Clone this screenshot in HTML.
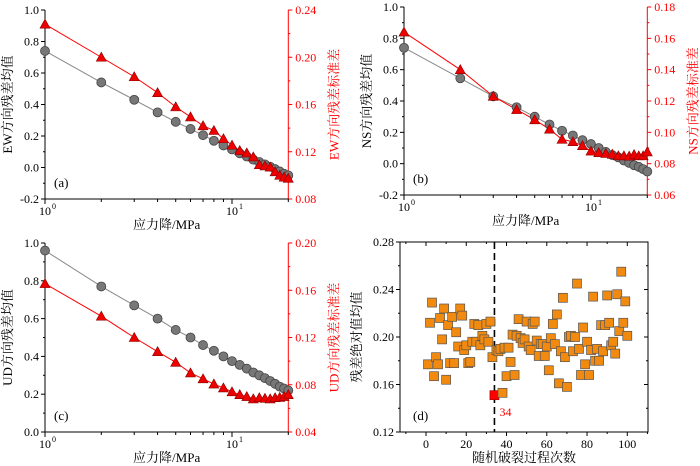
<!DOCTYPE html>
<html><head><meta charset="utf-8">
<style>
html,body{margin:0;padding:0;background:#fff;}
svg{display:block;font-family:"Liberation Serif","Noto Serif CJK SC",serif;}
</style></head>
<body>
<svg id="fig" width="700" height="466" viewBox="0 0 700 466"></svg>
<script>
const xStress = [1,2,3,4,5,6,7,8,9,10,11,12,13,14,15,16,17,18,19,20];
const ewMean = [0.74,0.54,0.43,0.35,0.29,0.245,0.205,0.17,0.14,0.115,0.09,0.07,0.05,0.035,0.02,0.005,-0.01,-0.025,-0.04,-0.05];
const ewStd = [0.228,0.2,0.1835,0.17,0.158,0.1495,0.142,0.138,0.131,0.1255,0.121,0.119,0.1156,0.109,0.108,0.107,0.103,0.1,0.0985,0.0975];
const nsMean = [0.74,0.545,0.43,0.36,0.30,0.25,0.21,0.18,0.15,0.125,0.1,0.075,0.055,0.04,0.02,0.005,-0.01,-0.02,-0.035,-0.05];
const nsStd = [0.164,0.14,0.123,0.1145,0.108,0.102,0.0955,0.094,0.0915,0.088,0.087,0.0865,0.086,0.085,0.085,0.0848,0.0858,0.085,0.085,0.0875];
const udMean = [0.96,0.77,0.67,0.60,0.54,0.50,0.46,0.43,0.40,0.375,0.355,0.335,0.315,0.30,0.285,0.27,0.255,0.24,0.23,0.22];
const udStd = [0.1656,0.138,0.12,0.108,0.099,0.09,0.085,0.0806,0.0773,0.074,0.0716,0.07,0.068,0.069,0.0685,0.068,0.069,0.0693,0.07,0.0716];
const leftTicks = [-0.2,0,0.2,0.4,0.6,0.8,1.0];
const leftTicksC = [0,0.2,0.4,0.6,0.8,1.0];
const ewRightTicks = [0.08,0.12,0.16,0.20,0.24];
const nsRightTicks = [0.06,0.08,0.10,0.12,0.14,0.16,0.18];
const udRightTicks = [0.04,0.08,0.12,0.16,0.20];
const runIdx = Array.from({length:100},(_,i)=>i+1);
const runVals = [0.177,0.212,0.229,0.167,0.183,0.177,0.216,0.198,0.224,0.164,0.210,0.178,0.217,0.178,0.204,0.192,0.224,0.218,0.189,0.193,
0.178,0.179,0.196,0.211,0.196,0.210,0.193,0.201,0.198,0.211,0.196,0.213,0.183,0.151,0.189,0.188,0.190,0.153,0.191,0.167,
0.191,0.179,0.202,0.168,0.201,0.215,0.199,0.195,0.198,0.213,0.192,0.189,0.211,0.213,0.197,0.184,0.194,0.194,0.184,0.192,
0.172,0.199,0.211,0.194,0.219,0.161,0.188,0.233,0.183,0.158,0.200,0.201,0.188,0.200,0.245,0.190,0.168,0.208,0.177,0.196,
0.168,0.189,0.234,0.180,0.190,0.180,0.210,0.188,0.210,0.235,0.212,0.193,0.196,0.186,0.236,0.205,0.255,0.212,0.230,0.201];
const bestRun = 34;
const dTicksX = [0,20,40,60,80,100];
const dTicksY = [0.12,0.16,0.20,0.24,0.28];

const svg = document.getElementById('fig');
const NS = 'http://www.w3.org/2000/svg';
function mk(tag, attrs, parent){
  const e = document.createElementNS(NS, tag);
  for (const k in attrs) e.setAttribute(k, attrs[k]);
  (parent||svg).appendChild(e);
  return e;
}
function fmt(v,d){return v.toFixed(d);}

function logPanel(p){
  const g = mk('g',{});
  
  
  const xs = v => p.x0 + Math.log10(v)*p.dec;
  const yl = v => p.yB + (v-p.lmin)/(p.lmax-p.lmin)*(p.yT-p.yB);
  const yr = v => p.yB + (v-p.rmin)/(p.rmax-p.rmin)*(p.yT-p.yB);
  const xR = xs(20);
  const la = mk('line',{x1:p.x0,y1:p.yT,x2:p.x0,y2:p.yB,stroke:'#000','stroke-width':1},g);
   
  p.lt.forEach((v,i)=>{
    mk('line',{x1:p.x0-4,x2:p.x0,y1:yl(v),y2:yl(v),stroke:'#000'},g);
    if(i<p.lt.length-1){const m=yl(v+0.1);mk('line',{x1:p.x0-2,x2:p.x0,y1:m,y2:m,stroke:'#000'},g);}
    const t=mk('text',{x:p.x0-6,y:yl(v)+4,'text-anchor':'end','font-size':12,fill:'#000'},g);
    t.textContent=fmt(v,1);
     
  });
  const ra = mk('line',{x1:xR,y1:p.yT,x2:xR,y2:p.yB,stroke:'#f00','stroke-width':1},g);
   
  const step = p.rt[1]-p.rt[0];
  p.rt.forEach((v,i)=>{
    mk('line',{x1:xR,x2:xR+4,y1:yr(v),y2:yr(v),stroke:'#f00'},g);
    if(i<p.rt.length-1){const m=yr(v+step/2);mk('line',{x1:xR,x2:xR+2,y1:m,y2:m,stroke:'#f00'},g);}
    const t=mk('text',{x:xR+7,y:yr(v)+4,'font-size':12,fill:'#f00'},g);
    t.textContent=fmt(v,2);
     
  });
  const ba = mk('line',{x1:p.x0,y1:p.yB,x2:xR,y2:p.yB,stroke:'#000'},g);
   
  for(let v=1; v<=20; v++){
    const major = (v===1||v===10);
    if(v<=10 || v%10===0){
      mk('line',{x1:xs(v),x2:xs(v),y1:p.yB,y2:p.yB+(major?5:3),stroke:'#000'},g);
    }
  }
  [[1,'0'],[10,'1']].forEach(([v,e])=>{
    const t=mk('text',{x:xs(v)-6,y:p.yB+16,'font-size':12},g);
    t.textContent='10';
     
    const s=mk('text',{x:xs(v)+7,y:p.yB+10,'font-size':8},g);
    s.textContent=e;
  });
  const xt=mk('text',{x:(p.x0+xR)/2,y:p.yB+30,'text-anchor':'middle','font-size':13},g);
  xt.textContent='应力降/MPa';
   
  const lt=mk('text',{x:0,y:0,'text-anchor':'middle','font-size':13,transform:`translate(${p.x0-33},${(p.yT+p.yB)/2}) rotate(-90)`},g);
  lt.textContent=p.ltitle;
   
  const rtt=mk('text',{x:0,y:0,'text-anchor':'middle','font-size':13,fill:'#f00',transform:`translate(${xR+50},${(p.yT+p.yB)/2}) rotate(-90)`},g);
  rtt.textContent=p.rtitle;
   
  const pl=mk('text',{x:p.x0+9,y:p.yB-12,'font-size':13},g);
  pl.textContent=p.label;
   
  const mp = xStress.map((x,i)=>xs(x)+','+yl(p.mean[i])).join(' ');
  const ml = mk('polyline',{points:mp,fill:'none',stroke:'#888','stroke-width':1},g);
   
  const sp = xStress.map((x,i)=>xs(x)+','+yr(p.std[i])).join(' ');
  const sl = mk('polyline',{points:sp,fill:'none',stroke:'#f00','stroke-width':1},g);
   
  xStress.forEach((x,i)=>{
    const c=mk('circle',{cx:xs(x),cy:yl(p.mean[i]),r:4.5,fill:'#777',stroke:'#444','stroke-width':0.8},g);
     
  });
  xStress.forEach((x,i)=>{
    const cx=xs(x), cy=yr(p.std[i]);
    const t=mk('polygon',{points:`${cx},${cy-5} ${cx-5},${cy+4} ${cx+5},${cy+4}`,fill:'#e00',stroke:'#800','stroke-width':0.6},g);
     
  });
}

logPanel({name:'panel-a-ew',x0:45,dec:187,yT:10,yB:199,lmin:-0.2,lmax:1.0,rmin:0.08,rmax:0.24,lt:leftTicks,rt:ewRightTicks,mean:ewMean,std:ewStd,ltitle:'EW方向残差均值',rtitle:'EW方向残差标准差',label:'(a)'});
logPanel({name:'panel-b-ns',x0:404,dec:187,yT:7,yB:195,lmin:-0.2,lmax:1.0,rmin:0.06,rmax:0.18,lt:leftTicks,rt:nsRightTicks,mean:nsMean,std:nsStd,ltitle:'NS方向残差均值',rtitle:'NS方向残差标准差',label:'(b)'});
logPanel({name:'panel-c-ud',x0:45,dec:187,yT:243,yB:432,lmin:0,lmax:1.0,rmin:0.04,rmax:0.20,lt:leftTicksC,rt:udRightTicks,mean:udMean,std:udStd,ltitle:'UD方向残差均值',rtitle:'UD方向残差标准差',label:'(c)'});

(function(){
  const g = mk('g',{});
  
  
  const L=400,R=648,T=242,B=432;
  const xs = v => 426 + v*2.013;
  const ys = v => B + (v-0.12)/(0.16)*(T-B);
  const fr=mk('rect',{x:L,y:T,width:R-L,height:B-T,fill:'none',stroke:'#000'},g);
   
  dTicksX.forEach((v,i)=>{
    mk('line',{x1:xs(v),x2:xs(v),y1:B,y2:B+4,stroke:'#000'},g);
    mk('line',{x1:xs(v),x2:xs(v),y1:T,y2:T+4,stroke:'#000'},g);
    [xs(v-10)].forEach(m=>{ if(m>L){mk('line',{x1:m,x2:m,y1:B,y2:B+2,stroke:'#000'},g);mk('line',{x1:m,x2:m,y1:T,y2:T+2,stroke:'#000'},g);} });
    const t=mk('text',{x:xs(v),y:B+16,'text-anchor':'middle','font-size':12},g);
    t.textContent=v;
     
  });
  mk('line',{x1:xs(110),x2:xs(110),y1:B,y2:B+2,stroke:'#000'},g);
  dTicksY.forEach((v,i)=>{
    mk('line',{x1:L-4,x2:L,y1:ys(v),y2:ys(v),stroke:'#000'},g);
    mk('line',{x1:R-4,x2:R,y1:ys(v),y2:ys(v),stroke:'#000'},g);
    if(i<dTicksY.length-1){const m=ys(v+0.02);mk('line',{x1:L-2,x2:L,y1:m,y2:m,stroke:'#000'},g);mk('line',{x1:R-2,x2:R,y1:m,y2:m,stroke:'#000'},g);}
    const t=mk('text',{x:L-6,y:ys(v)+4,'text-anchor':'end','font-size':12},g);
    t.textContent=v.toFixed(2);
     
  });
  const dl=mk('line',{x1:xs(bestRun),x2:xs(bestRun),y1:T,y2:B,stroke:'#000','stroke-width':1.6,'stroke-dasharray':'7,4'},g);
   
  runIdx.forEach((x,i)=>{
    const best = x===bestRun;
    const s=mk('rect',{x:xs(x)-4.5,y:ys(runVals[i])-4.5,width:9,height:9,fill:best?'#f00':'#f28a10',stroke:best?'#a00':'#555','stroke-width':0.7},g);
     
  });
  const bl=mk('text',{x:xs(bestRun)+5,y:ys(runVals[bestRun-1])+21,'font-size':12,fill:'#f00'},g);
  bl.textContent=String(bestRun);
   
  const pl=mk('text',{x:L+13,y:B-12,'font-size':13},g);
  pl.textContent='(d)';
   
  const xt=mk('text',{x:(L+R)/2,y:B+30,'text-anchor':'middle','font-size':13},g);
  xt.textContent='随机破裂过程次数';
   
  const yt=mk('text',{x:0,y:0,'text-anchor':'middle','font-size':13,transform:`translate(${L-39},${(T+B)/2}) rotate(-90)`},g);
  yt.textContent='残差绝对值均值';
   
})();
</script>
</body></html>
